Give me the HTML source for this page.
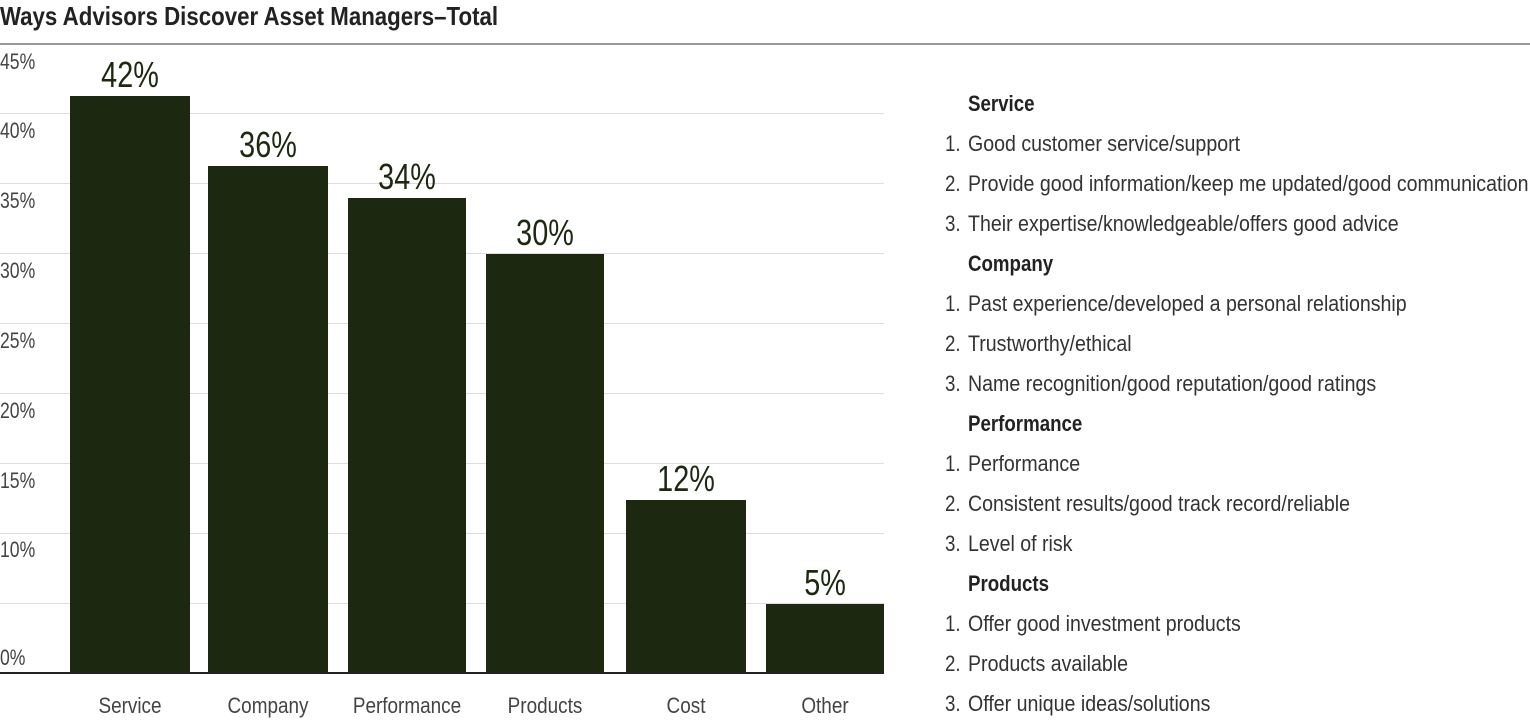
<!DOCTYPE html>
<html><head><meta charset="utf-8"><style>
body{margin:0;width:1530px;height:722px;background:#fff;position:relative;overflow:hidden;font-family:"Liberation Sans",sans-serif;color:#333}
div{position:absolute;white-space:nowrap}
.g{left:0;width:884px;height:1px;background:#ddd}
.y{left:0;font-size:22px;color:#444;line-height:22px;transform:scaleX(0.8);transform-origin:left}
.b{background:#1c2910}
.v{font-size:36px;color:#1c2910;text-align:center;width:140px;line-height:36px;transform:scaleX(0.8)}
.x{font-size:22px;color:#444;text-align:center;width:160px;line-height:22px;transform:scaleX(0.86)}
.n{left:945px;font-size:22px;line-height:24px;color:#333;transform:scaleX(0.85);transform-origin:left}
.l{left:968px;font-size:22px;line-height:24px;color:#333;transform:scaleX(0.89);transform-origin:left}
.h{font-weight:bold;color:#222;transform:scaleX(0.85)}
</style></head><body>
<div style="left:0;top:1px;font-size:26px;font-weight:bold;color:#222;line-height:30px;transform:scaleX(0.856);transform-origin:left">Ways Advisors Discover Asset Managers–Total</div>
<div style="left:0;top:43px;width:1530px;height:2px;background:#999"></div>
<div class="g" style="top:113px"></div><div class="g" style="top:183px"></div><div class="g" style="top:253px"></div><div class="g" style="top:323px"></div><div class="g" style="top:393px"></div><div class="g" style="top:463px"></div><div class="g" style="top:533px"></div><div class="g" style="top:603px"></div>
<div class="y" style="top:51px">45%</div><div class="y" style="top:120px">40%</div><div class="y" style="top:190px">35%</div><div class="y" style="top:260px">30%</div><div class="y" style="top:330px">25%</div><div class="y" style="top:400px">20%</div><div class="y" style="top:470px">15%</div><div class="y" style="top:539px">10%</div><div class="y" style="top:647px">0%</div>
<div class="b" style="left:70px;width:120px;top:96px;height:577px"></div>
<div class="b" style="left:208px;width:120px;top:166px;height:507px"></div>
<div class="b" style="left:348px;width:118px;top:198px;height:475px"></div>
<div class="b" style="left:486px;width:118px;top:254px;height:419px"></div>
<div class="b" style="left:626px;width:120px;top:500px;height:173px"></div>
<div class="b" style="left:766px;width:118px;top:604px;height:69px"></div>
<div style="left:0;top:672px;width:884px;height:2px;background:#222"></div>
<div class="v" style="left:60px;top:57px">42%</div>
<div class="v" style="left:198px;top:127px">36%</div>
<div class="v" style="left:337px;top:159px">34%</div>
<div class="v" style="left:475px;top:215px">30%</div>
<div class="v" style="left:616px;top:461px">12%</div>
<div class="v" style="left:755px;top:565px">5%</div>
<div class="x" style="left:50px;top:695px">Service</div>
<div class="x" style="left:188px;top:695px">Company</div>
<div class="x" style="left:327px;top:695px">Performance</div>
<div class="x" style="left:465px;top:695px">Products</div>
<div class="x" style="left:606px;top:695px">Cost</div>
<div class="x" style="left:745px;top:695px">Other</div>
<div class="l h" style="top:92px">Service</div>
<div class="n" style="top:132px">1.</div><div class="l" style="top:132px">Good customer service/support</div>
<div class="n" style="top:172px">2.</div><div class="l" style="top:172px">Provide good information/keep me updated/good communication</div>
<div class="n" style="top:212px">3.</div><div class="l" style="top:212px">Their expertise/knowledgeable/offers good advice</div>
<div class="l h" style="top:252px">Company</div>
<div class="n" style="top:292px">1.</div><div class="l" style="top:292px">Past experience/developed a personal relationship</div>
<div class="n" style="top:332px">2.</div><div class="l" style="top:332px">Trustworthy/ethical</div>
<div class="n" style="top:372px">3.</div><div class="l" style="top:372px">Name recognition/good reputation/good ratings</div>
<div class="l h" style="top:412px">Performance</div>
<div class="n" style="top:452px">1.</div><div class="l" style="top:452px">Performance</div>
<div class="n" style="top:492px">2.</div><div class="l" style="top:492px">Consistent results/good track record/reliable</div>
<div class="n" style="top:532px">3.</div><div class="l" style="top:532px">Level of risk</div>
<div class="l h" style="top:572px">Products</div>
<div class="n" style="top:612px">1.</div><div class="l" style="top:612px">Offer good investment products</div>
<div class="n" style="top:652px">2.</div><div class="l" style="top:652px">Products available</div>
<div class="n" style="top:692px">3.</div><div class="l" style="top:692px">Offer unique ideas/solutions</div>
</body></html>
